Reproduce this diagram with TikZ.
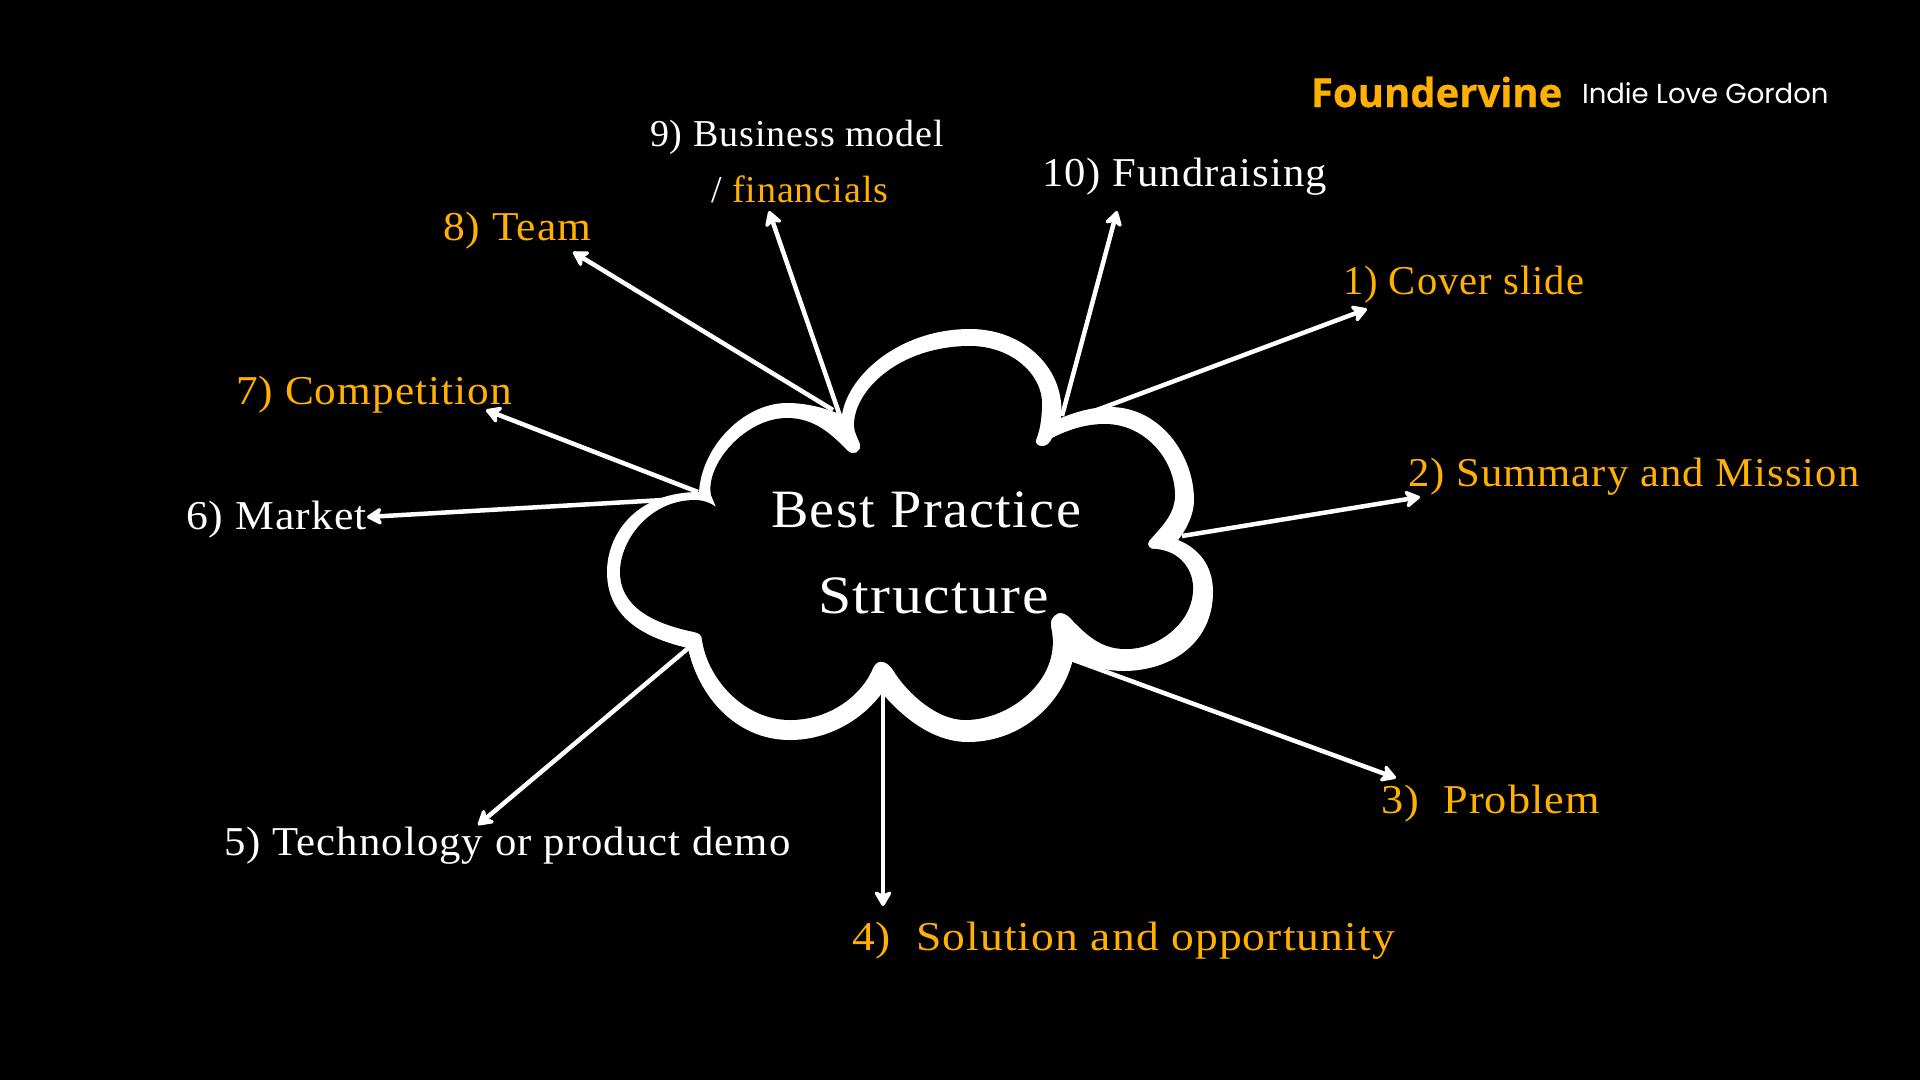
\documentclass[tikz,border=0pt]{standalone}
\usepackage{fontspec}
\usepackage{graphicx}
\setmainfont{Liberation Serif}[LetterSpace=2.5,Numbers=Lining]
\newfontfamily\brandb{Open Sans}[BoldFeatures={FakeBold=0.6}]
\newfontfamily\brandc{Poppins}
\usetikzlibrary{arrows.meta}
\definecolor{amber}{HTML}{FFB000}
\newcommand{\stw}[2]{\scalebox{#1}[1]{#2}}
\tikzset{
  lab/.style={anchor=base west,inner sep=0pt,outer sep=0pt,font=\fontsize{41}{41}\selectfont},
  wht/.style={lab,text=white},
  amb/.style={lab,text=amber},
  conn/.style={draw=white,line width=4.5pt,-{Stealth[length=18pt,width=21pt,inset=5pt,round]}},
}
\begin{document}
\begin{tikzpicture}[x=1pt,y=-1pt]
\useasboundingbox (0,0) rectangle (1920,1080);
\fill[black] (0,0) rectangle (1920,1080);
\coordinate (s1) at (1070,420); \coordinate (e1) at (1367,309);
\coordinate (s2) at (1182,536); \coordinate (e2) at (1420,497);
\coordinate (s3) at (1071,659); \coordinate (e3) at (1396,778);
\coordinate (s4) at (883,692); \coordinate (e4) at (883,906);
\coordinate (s5) at (692,645); \coordinate (e5) at (478,825);
\coordinate (s6) at (698,498); \coordinate (e6) at (367,517);
\coordinate (s7) at (698,492); \coordinate (e7) at (486,410);
\coordinate (s8) at (833,410); \coordinate (e8) at (573,252);
\coordinate (s9) at (840,416); \coordinate (e9) at (769,211);
\coordinate (s10) at (1062,416); \coordinate (e10) at (1117,211);
\foreach \i in {1,...,10} \draw[conn] (s\i) -- (e\i);
\fill[white] (842,415) .. controls (848,375) and (900,329) .. (970,329)
 .. controls (1025,329) and (1066,370) .. (1061,418)
 .. controls (1078,411) and (1094,407) .. (1110,407)
 .. controls (1160,407) and (1194,455) .. (1194,500)
 .. controls (1194,515) and (1186,530) .. (1178,540)
 .. controls (1198,548) and (1213,565) .. (1213,592)
 .. controls (1213,640) and (1175,670) .. (1125,671)
 .. controls (1105,671) and (1088,666) .. (1073,659)
 .. controls (1062,705) and (1020,742) .. (968,742)
 .. controls (935,742) and (905,720) .. (882,693)
 .. controls (862,720) and (828,740) .. (790,740)
 .. controls (735,740) and (698,695) .. (688,648)
 .. controls (640,637) and (607,615) .. (607,572)
 .. controls (607,535) and (635,492) .. (699,492)
 .. controls (702,445) and (745,403) .. (787,403)
 .. controls (807,403) and (825,408) .. (842,415) -- cycle;
\fill[black] (716,507) -- (711,495)
 .. controls (705,465) and (745,418) .. (787,418)
 .. controls (815,418) and (832,435) .. (848,451)
 .. controls (853,456) and (862,452) .. (860,444)
 .. controls (857,436) and (854,432) .. (854,425)
 .. controls (854,390) and (900,346) .. (970,346)
 .. controls (1012,346) and (1042,375) .. (1042,403)
 .. controls (1042,418) and (1040,430) .. (1036,440)
 .. controls (1034,447) and (1048,450) .. (1052,438)
 .. controls (1068,430) and (1085,424) .. (1105,424)
 .. controls (1145,424) and (1175,460) .. (1175,495)
 .. controls (1175,515) and (1160,528) .. (1149,541)
 .. controls (1146,545) and (1150,550) .. (1156,549)
 .. controls (1180,551) and (1194,570) .. (1193,590)
 .. controls (1192,625) and (1155,650) .. (1125,649)
 .. controls (1100,649) and (1085,633) .. (1073,621)
 .. controls (1066,612) and (1058,611) .. (1054,616)
 .. controls (1049,621) and (1051,626) .. (1052,632)
 .. controls (1060,680) and (1010,720) .. (965,720)
 .. controls (935,720) and (905,690) .. (893,670)
 .. controls (888,662) and (878,657) .. (873,668)
 .. controls (862,695) and (830,720) .. (790,720)
 .. controls (745,720) and (708,680) .. (702,640)
 .. controls (702,635) and (699,633) .. (694,632)
 .. controls (650,623) and (620,605) .. (620,572)
 .. controls (620,540) and (650,500) .. (695,500)
 .. controls (703,500) and (711,503) .. (716,507) -- cycle;
\node[amb] (t1) at (1343,294) {\stw{.99}{1) Cover slide}};
\node[amb] (t2) at (1408,486) {\stw{1.04}{2) Summary and Mission}};
\node[amb] (t3) at (1381,813) {\stw{1.08}{3)\ \ Problem}};
\node[amb] (t4) at (852,950) {\stw{1.11}{4)\ \ Solution and opportunity}};
\node[wht] (t5) at (224,855) {\stw{1.043}{5) Technology or product demo}};
\node[wht] (t6) at (186,529) {\stw{1.065}{6) Market}};
\node[amb] (t7) at (236,404) {\stw{1.056}{7) Competition}};
\node[amb] (t8) at (443,240) {\stw{1.06}{8) Team}};
\node[wht,font=\fontsize{38}{38}\selectfont] (t9) at (650,146) {9) Business model};
\node[lab,font=\fontsize{38}{38}\selectfont] (t9b) at (711,202) {\textcolor{white}{/ }\textcolor{amber}{financials}};
\node[wht] (t10) at (1042,186) {\stw{1.04}{10) Fundraising}};
\node[wht,font=\fontsize{54}{54}\selectfont] (bp) at (771,527) {\stw{1.04}{Best Practice}};
\node[wht,font=\fontsize{54}{54}\selectfont] (st) at (818,613) {\stw{1.106}{Structure}};
\node[amb,font=\brandb\bfseries\fontsize{40}{40}\selectfont] (fv) at (1311,107) {Foundervine};
\node[wht,font=\brandc\fontsize{27.5}{27.5}\selectfont] (il) at (1582,103) {Indie Love Gordon};
\end{tikzpicture}
\end{document}
